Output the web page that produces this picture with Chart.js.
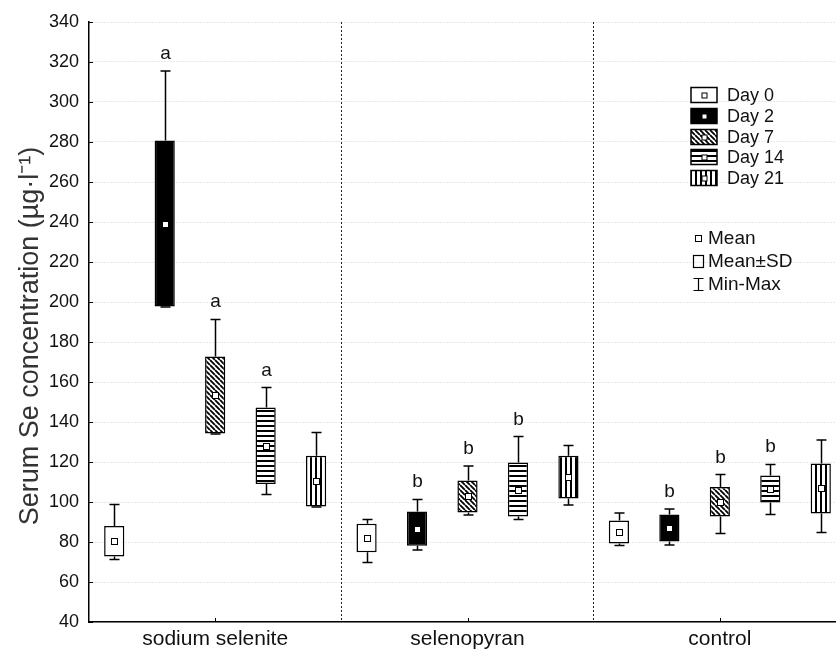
<!DOCTYPE html>
<html>
<head>
<meta charset="utf-8">
<script src="https://cdn.jsdelivr.net/npm/chart.js@4.4.1/dist/chart.umd.min.js"></script>
<style>
  html, body { margin: 0; padding: 0; overflow: hidden; background: #fff; }
  #wrap { width: 850px; height: 652px; }
</style>
</head>
<body>
<div id="wrap"><canvas id="chart" width="850" height="652"></canvas></div>
<script>
// groups on the x axis, one box per day inside each group
const groups = ['sodium selenite', 'selenopyran', 'control'];
const days = ['Day 0', 'Day 2', 'Day 7', 'Day 14', 'Day 21'];

// rows = days, columns = groups (sodium selenite, selenopyran, control)
const means = [
  [80.4, 82.0, 85.0],
  [239.2, 86.7, 87.0],
  [153.5, 102.8, 100.1],
  [128.1, 106.2, 106.5],
  [110.4, 112.4, 106.8]
];
const sds = [
  [7.6, 7.1, 5.8],
  [41.5, 8.6, 6.8],
  [19.2, 8.0, 7.4],
  [19.1, 13.5, 6.8],
  [12.7, 10.7, 12.5]
];
const mins = [
  [71.2, 69.7, 78.2],
  [197.5, 76.0, 78.5],
  [134.0, 93.5, 84.3],
  [103.8, 91.3, 93.7],
  [97.5, 98.5, 84.7]
];
const maxs = [
  [98.8, 91.3, 94.5],
  [315.5, 101.3, 96.5],
  [191.3, 118.0, 113.7],
  [157.2, 132.7, 118.8],
  [134.8, 128.2, 131.0]
];
const letters = [
  ['', '', ''],
  ['a', 'b', 'b'],
  ['a', 'b', 'b'],
  ['a', 'b', 'b'],
  ['', '', '']
];

const yTitle = 'Serum Se concentration (µg·l⁻¹)';
const statLabels = ['Mean', 'Mean±SD', 'Min-Max'];

const FONT = "'Liberation Sans', Arial, sans-serif";
Chart.defaults.font.family = FONT;
Chart.defaults.color = '#111';

const canvas = document.getElementById('chart');
const ctx = canvas.getContext('2d');

function makeFill(kind) {
  if (kind === 'white') return '#fff';
  if (kind === 'black') return '#000';
  const s = 5;
  const c = document.createElement('canvas');
  c.width = s; c.height = s;
  const p = c.getContext('2d');
  p.fillStyle = '#fff';
  p.fillRect(0, 0, s, s);
  p.fillStyle = '#000';
  if (kind === 'hline') p.fillRect(0, 0, s, 2);
  if (kind === 'vline') p.fillRect(0, 0, 2, s);
  if (kind === 'diag') {
    p.strokeStyle = '#000';
    p.lineWidth = 1.8;
    p.beginPath();
    for (let k = -s; k <= s; k += s) { p.moveTo(k, 0); p.lineTo(k + s, s); }
    p.stroke();
  }
  return ctx.createPattern(c, 'repeat');
}
const fills = ['white', 'black', 'diag', 'hline', 'vline'].map(makeFill);

function meanMark(c, x, y, size) {
  c.fillStyle = '#fff';
  c.fillRect(x - size / 2, y - size / 2, size, size);
  c.strokeStyle = '#000';
  c.lineWidth = 1;
  c.strokeRect(x - size / 2, y - size / 2, size, size);
}

const boxExtras = {
  id: 'boxExtras',
  afterDatasetsDraw(chart) {
    const c = chart.ctx;
    const y = chart.scales.y;
    const x = chart.scales.x;
    const area = chart.chartArea;
    c.save();
    // inward tick marks
    c.strokeStyle = '#000';
    c.lineWidth = 1;
    y.ticks.forEach(t => {
      const py = Math.round(y.getPixelForValue(t.value)) + 0.5;
      c.beginPath(); c.moveTo(area.left, py); c.lineTo(area.left + 4, py); c.stroke();
    });
    groups.forEach((g, i) => {
      const px = Math.round(x.getPixelForValue(i)) + 0.5;
      c.beginPath(); c.moveTo(px, area.bottom); c.lineTo(px, area.bottom - 4); c.stroke();
    });
    // whiskers, means, letters
    chart.data.datasets.forEach((ds, d) => {
      chart.getDatasetMeta(d).data.forEach((bar, g) => {
        const bx = Math.round(bar.x) + 0.5;
        const hi = y.getPixelForValue(means[d][g] + sds[d][g]);
        const lo = y.getPixelForValue(means[d][g] - sds[d][g]);
        const top = y.getPixelForValue(maxs[d][g]);
        const bot = y.getPixelForValue(mins[d][g]);
        c.strokeStyle = '#000';
        c.lineWidth = 1.5;
        c.beginPath();
        c.moveTo(bx, hi); c.lineTo(bx, top);
        c.moveTo(bx - 5, top); c.lineTo(bx + 5, top);
        c.moveTo(bx, lo); c.lineTo(bx, bot);
        c.moveTo(bx - 5, bot); c.lineTo(bx + 5, bot);
        c.stroke();
        meanMark(c, bx, Math.round(y.getPixelForValue(means[d][g])) + 0.5, 6);
        if (letters[d][g]) {
          c.fillStyle = '#111';
          c.font = '19px ' + FONT;
          c.textAlign = 'center';
          c.textBaseline = 'alphabetic';
          c.fillText(letters[d][g], bx, top - 12);
        }
      });
    });
    c.restore();
  },
  afterDraw(chart) {
    const c = chart.ctx;
    c.save();
    // y axis title, sitting a little below the middle as in the original
    c.translate(31, 336);
    c.rotate(-Math.PI / 2);
    c.font = '27px ' + FONT;
    c.fillStyle = '#333';
    c.textAlign = 'center';
    c.textBaseline = 'middle';
    c.fillText(yTitle, 0, 0);
    c.restore();

    c.save();
    // day legend
    const lx = 691, ly = 95, row = 20.75;
    c.font = '18px ' + FONT;
    c.textAlign = 'left';
    c.textBaseline = 'middle';
    days.forEach((d, i) => {
      const cy = Math.round(ly + i * row);
      c.fillStyle = fills[i];
      c.fillRect(lx, cy - 7.5, 26, 15);
      c.strokeStyle = '#000';
      c.lineWidth = 1.5;
      c.strokeRect(lx, cy - 7.5, 26, 15);
      meanMark(c, lx + 13.5, cy + 0.5, 5);
      c.fillStyle = '#111';
      c.fillText(d, 727, cy + 1);
    });
    // statistic legend
    c.font = '19px ' + FONT;
    meanMark(c, 698.5, 238.5, 6);
    c.strokeStyle = '#000';
    c.lineWidth = 1.2;
    c.strokeRect(693.5, 255.5, 10, 12);
    c.beginPath();
    c.moveTo(698.5, 278); c.lineTo(698.5, 291);
    c.moveTo(693.5, 278.5); c.lineTo(703.5, 278.5);
    c.moveTo(693.5, 290.5); c.lineTo(703.5, 290.5);
    c.stroke();
    c.fillStyle = '#111';
    [238, 261, 284].forEach((ty, i) => c.fillText(statLabels[i], 708, ty + 1));
    c.restore();
  }
};

new Chart(canvas, {
  type: 'bar',
  data: {
    labels: groups,
    datasets: days.map((day, d) => ({
      label: day,
      data: groups.map((g, i) => [means[d][i] - sds[d][i], means[d][i] + sds[d][i]]),
      backgroundColor: fills[d],
      borderColor: '#000',
      borderWidth: 1.5,
      borderSkipped: false,
      barPercentage: 0.4,
      categoryPercentage: 1.0
    }))
  },
  options: {
    responsive: false,
    animation: false,
    devicePixelRatio: 1,
    layout: { padding: { top: 22, right: 4, left: 0, bottom: 0 } },
    plugins: { legend: { display: false }, tooltip: { enabled: false } },
    scales: {
      x: {
        offset: true,
        grid: { display: true, offset: true, color: '#222', lineWidth: 1, drawTicks: false },
        border: { display: true, color: '#000', width: 1.5, dash: [2, 2] },
        ticks: { font: { size: 21 }, color: '#111', padding: 5, maxRotation: 0, autoSkip: false },
        afterFit: s => { s.height = 30; }
      },
      y: {
        min: 40,
        max: 340,
        grid: { color: 'rgba(0,0,0,0.18)', lineWidth: 1, drawTicks: false },
        border: { display: true, color: '#000', width: 1.5, dash: [1, 2] },
        ticks: { stepSize: 20, font: { size: 18 }, color: '#111', padding: 10 },
        afterFit: s => { s.width = 89; }
      }
    }
  },
  plugins: [boxExtras]
});
</script>
</body>
</html>
